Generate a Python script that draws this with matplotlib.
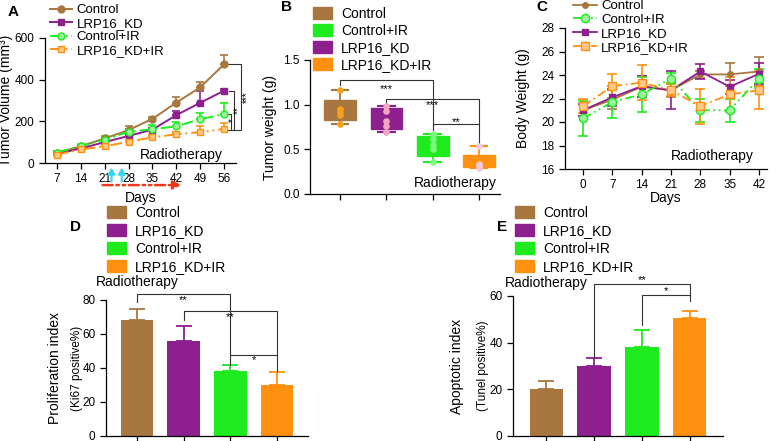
import matplotlib
matplotlib.use("Agg")
import matplotlib.pyplot as plt
import numpy as np
from matplotlib.lines import Line2D
from matplotlib.patches import Patch

plt.rcParams['font.family'] = ['Liberation Sans', 'DejaVu Sans']

W, H = 778, 441
groups = ["Control", "LRP16_KD", "Control+IR", "LRP16_KD+IR"]
col = {"Control": "#A8773F", "LRP16_KD": "#8E1F8E",
       "Control+IR": "#1EEB1E", "LRP16_KD+IR": "#FF9010"}

# ---- A: tumor volume ----
days_a = [7, 14, 21, 28, 35, 42, 49, 56]
vol = {
    "Control":     [48, 80, 118, 158, 212, 290, 363, 474],
    "LRP16_KD":    [44, 70, 100, 130, 160, 230, 289, 347],
    "Control+IR":  [50, 82, 112, 150, 162, 176, 210, 235],
    "LRP16_KD+IR": [40, 65, 80, 102, 123, 138, 148, 163],
}
vol_err = {
    "Control":     [8, 8, 12, 20, 10, 28, 27, 44],
    "LRP16_KD":    [5, 6, 8, 10, 8, 20, 56, 6],
    "Control+IR":  [6, 8, 20, 14, 20, 20, 28, 52],
    "LRP16_KD+IR": [5, 6, 8, 10, 10, 12, 28, 28],
}

# ---- B: tumor weight ----
weight_pts = {
    "Control":     [1.165, 0.95, 0.92, 0.88, 0.785],
    "LRP16_KD":    [0.985, 0.93, 0.82, 0.76, 0.69],
    "Control+IR":  [0.67, 0.62, 0.55, 0.50, 0.36],
    "LRP16_KD+IR": [0.54, 0.34, 0.33, 0.31, 0.295],
}
pt_col = {"Control": "#F5A21B", "LRP16_KD": "#F4A6C0",
          "Control+IR": "#7CFC7C", "LRP16_KD+IR": "#F8C8D8"}

# ---- C: body weight ----
days_c = [0, 7, 14, 21, 28, 35, 42]
bw = {
    "Control":     [21.0, 21.9, 23.0, 22.7, 24.05, 24.05, 24.3],
    "Control+IR":  [20.3, 21.7, 22.35, 23.7, 21.0, 21.0, 23.7],
    "LRP16_KD":    [21.0, 22.1, 23.05, 22.7, 24.3, 23.0, 24.1],
    "LRP16_KD+IR": [21.35, 23.05, 23.35, 22.7, 21.35, 22.35, 22.7],
}
bw_err = {
    "Control":     [0.5, 0.8, 0.9, 0.6, 0.3, 1.0, 1.2],
    "Control+IR":  [1.5, 1.4, 1.5, 0.5, 1.0, 1.0, 0.8],
    "LRP16_KD":    [0.5, 0.7, 0.9, 1.6, 0.6, 0.6, 0.9],
    "LRP16_KD+IR": [0.6, 1.0, 1.5, 0.5, 1.5, 1.5, 1.6],
}

# ---- D / E: bar charts ----
prolif = [68, 56, 38, 30]
prolif_err = [7, 9, 3.5, 7.5]
apopt = [20, 30, 38, 50.5]
apopt_err = [3.5, 3.5, 7.5, 3]


def ax_px(l, r, t, b):
    return fig.add_axes([l / W, 1 - b / H, (r - l) / W, (b - t) / H])


def style(ax):
    for s in ["top", "right"]:
        ax.spines[s].set_visible(False)
    for s in ["left", "bottom"]:
        ax.spines[s].set_linewidth(0.9)
    ax.tick_params(direction="out", length=4, width=0.9, labelsize=8.5)


def fig_legend(ax, handles, labels, x, y, fs=10, tp=0.6, **kw):
    ax.legend(handles, labels, loc="upper left", bbox_to_anchor=(x / W, 1 - y / H),
              bbox_transform=fig.transFigure, frameon=False, fontsize=fs,
              borderpad=0, borderaxespad=0, handletextpad=tp, **kw)


fig = plt.figure(figsize=(W / 100, H / 100), dpi=100)

# ================= A =================
ax = ax_px(45, 236, 38, 163)
style(ax)
styleA = {
    "Control":     dict(ls="-", marker="o", mfc=col["Control"]),
    "LRP16_KD":    dict(ls="-", marker="s", mfc=col["LRP16_KD"]),
    "Control+IR":  dict(ls=(0, (6, 2, 1, 2)), marker="o", mfc="#9BF59B"),
    "LRP16_KD+IR": dict(ls=(0, (6, 2, 1, 2, 1, 2)), marker="s", mfc="#FFC98A"),
}
handles = []
for g in groups:
    y = np.array(vol[g])
    e = np.array(vol_err[g])
    ax.errorbar(days_a, y, yerr=[np.zeros_like(e), e], color=col[g], lw=1.4,
                ms=5, mec=col[g], capsize=3, elinewidth=1.2, capthick=1.2,
                clip_on=False, zorder=3, **styleA[g])
    handles.append(Line2D([], [], color=col[g], lw=1.4, ms=5, mec=col[g], **styleA[g]))
ax.set_xlim(3.5, 59.5)
ax.set_ylim(0, 600)
ax.set_xticks(days_a)
ax.set_yticks([0, 200, 400, 600])
ax.set_xlabel("Days", fontsize=10, labelpad=4)
ax.set_ylabel("Tumor Volume (mm³)", fontsize=10)
ax.yaxis.set_label_coords(-0.165, 0.5)
ax.text(43.6, 40, "Radiotherapy", ha="center", va="center", fontsize=10)
# irradiation arrows
for d in [23.0, 26.0]:
    ax.annotate("", xy=(d, -22), xytext=(d, -88), xycoords="data",
                arrowprops=dict(arrowstyle="-|>,head_length=0.35,head_width=0.2",
                                color="#35D8F0", lw=1.6, mutation_scale=10,
                                shrinkA=0, shrinkB=0),
                annotation_clip=False)
ax.annotate("", xy=(43.5, -106), xytext=(20.4, -106),
            arrowprops=dict(arrowstyle="-|>", color="#F0381A", lw=1.8,
                            ls=(0, (4, 1.5, 1, 1.5, 1, 1.5)), mutation_scale=12,
                            shrinkA=0, shrinkB=0),
            annotation_clip=False)
# significance
kw = dict(color="#333333", lw=0.8, clip_on=False)
ax.plot([57.0, 61.0, 61.0, 57.0], [474, 474, 158, 158], **kw)
ax.plot([57.5, 58.9, 58.9], [347, 347, 158], **kw)
ax.plot([57.2, 57.9, 57.9], [235, 235, 158], **kw)
for x, y, s in [(62.6, 318, "***"), (60.2, 254, "**"), (58.5, 206, "*")]:
    ax.text(x, y, s, rotation=90, ha="center", va="center", fontsize=7)
fig_legend(ax, handles, groups, 50, 4, fs=9.5, tp=0.35, handlelength=1.65,
           labelspacing=0.1)
fig.text(8 / W, 1 - 12 / H, "A", fontsize=11, fontweight="bold", va="center")

# ================= B =================
ax = ax_px(310, 500, 60, 194)
style(ax)
stats = []
for g in groups:
    p = np.array(weight_pts[g])
    q1, med, q3 = np.percentile(p, [25, 50, 75], method="weibull")
    stats.append(dict(med=med, q1=q1, q3=q3, whislo=p.min(), whishi=p.max(), fliers=[]))
bp = ax.bxp(stats, positions=range(4), widths=0.68, capwidths=0.36,
            patch_artist=True, showfliers=False)
for i, g in enumerate(groups):
    bp["boxes"][i].set(facecolor=col[g], edgecolor=col[g])
    bp["medians"][i].set(color=col[g], lw=1)
    for k in (2 * i, 2 * i + 1):
        bp["whiskers"][k].set(color=col[g], lw=1.3)
        bp["caps"][k].set(color=col[g], lw=1.5)
    ax.scatter(np.full(len(weight_pts[g]), i), weight_pts[g], s=14,
               color=pt_col[g], zorder=4, clip_on=False)
ax.set_xlim(-0.65, 3.45)
ax.set_ylim(0, 1.5)
ax.set_xticks(range(4))
ax.set_xticklabels([])
ax.set_yticks([0, 0.5, 1.0, 1.5])
ax.set_ylabel("Tumor weight (g)", fontsize=10)
ax.yaxis.set_label_coords(-0.174, 0.5)
ax.text(2.48, 0.12, "Radiotherapy", ha="center", va="center", fontsize=10)
kw = dict(color="#333333", lw=0.8, clip_on=False)
ax.plot([0, 0, 2, 2], [1.22, 1.28, 1.28, 0.76], **kw)
ax.plot([1, 1, 3, 3], [1.0, 1.06, 1.06, 0.57], **kw)
ax.plot([2, 2, 3], [0.72, 0.78, 0.78], **kw)
ax.text(1, 1.17, "***", ha="center", va="center", fontsize=8)
ax.text(2, 1.0, "***", ha="center", va="center", fontsize=8)
ax.text(2.5, 0.8, "**", ha="center", va="center", fontsize=8)
order_b = ["Control", "Control+IR", "LRP16_KD", "LRP16_KD+IR"]
fig_legend(ax, [Patch(color=col[g]) for g in order_b], order_b, 313, 7,
           handlelength=1.4, handleheight=0.95, labelspacing=0.22)
fig.text(281 / W, 1 - 7 / H, "B", fontsize=11, fontweight="bold", va="center")

# ================= C =================
ax = ax_px(565, 767, 28, 169)
style(ax)
styleC = {
    "Control":     dict(ls="-", marker="o", mfc=col["Control"], ms=4),
    "Control+IR":  dict(ls=(0, (5, 2, 1, 2, 1, 2)), marker="o", mfc="#9BF59B", ms=6),
    "LRP16_KD":    dict(ls="-", marker="s", mfc=col["LRP16_KD"], ms=5),
    "LRP16_KD+IR": dict(ls=(0, (5, 2, 1, 2)), marker="s", mfc="#FFC98A", ms=6),
}
handles = []
for g in ["Control", "LRP16_KD", "Control+IR", "LRP16_KD+IR"]:
    ax.errorbar(days_c, bw[g], yerr=bw_err[g], color=col[g], lw=1.3, mec=col[g],
                capsize=3.5, elinewidth=1.2, capthick=1.2, clip_on=False, zorder=3,
                **styleC[g])
for g in ["Control", "Control+IR", "LRP16_KD", "LRP16_KD+IR"]:
    handles.append(Line2D([], [], color=col[g], lw=1.3, mec=col[g], **styleC[g]))
ax.set_xlim(-4.3, 43.9)
ax.set_ylim(16, 28)
ax.set_xticks(days_c)
ax.set_yticks(range(16, 29, 2))
ax.set_xlabel("Days", fontsize=10, labelpad=0)
ax.set_ylabel("Body Weight (g)", fontsize=10)
ax.yaxis.set_label_coords(-0.173, 0.5)
ax.text(30.8, 17.1, "Radiotherapy", ha="center", va="center", fontsize=10)
fig_legend(ax, handles, ["Control", "Control+IR", "LRP16_KD", "LRP16_KD+IR"],
           573, 0, fs=9.5, tp=0.35, handlelength=1.8, labelspacing=0.12)
fig.text(536 / W, 1 - 7 / H, "C", fontsize=11, fontweight="bold", va="center")


# ================= D / E =================
def bar_panel(ax, vals, errs):
    style(ax)
    for i, g in enumerate(groups):
        ax.bar(i, vals[i], width=0.69, color=col[g], zorder=2)
        ax.errorbar(i, vals[i], yerr=[[0], [errs[i]]], color=col[g], capsize=6,
                    elinewidth=1.3, capthick=1.3, zorder=1)
    ax.set_xticks(range(4))
    ax.set_xticklabels([])
    ax.tick_params(axis="x", length=6)


ax = ax_px(106, 308, 300, 436)
bar_panel(ax, prolif, prolif_err)
ax.set_xlim(-0.66, 3.66)
ax.set_ylim(0, 80)
ax.set_yticks([0, 20, 40, 60, 80])
ax.set_ylabel("Proliferation index", fontsize=10)
ax.yaxis.set_label_coords(-0.218, 0.5)
ax.text(-1.28, 40, "(Ki67 positive%)", rotation=90, ha="center", va="center",
        fontsize=8.5, clip_on=False)
kw = dict(color="#333333", lw=0.8, clip_on=False)
ax.plot([0, 0, 2, 2], [79, 83.5, 83.5, 47.6], **kw)
ax.plot([1, 1, 3, 3], [68, 73.7, 73.7, 47.6], **kw)
ax.plot([2, 2, 3, 3], [41.8, 47.6, 47.6, 38], **kw)
ax.text(1, 80, "**", ha="center", va="center", fontsize=8)
ax.text(2, 70, "**", ha="center", va="center", fontsize=8)
ax.text(2.5, 44.6, "*", ha="center", va="center", fontsize=8)
ax.text(0, 90.6, "Radiotherapy", ha="center", va="center", fontsize=10, clip_on=False)
fig_legend(ax, [Patch(color=col[g]) for g in groups], groups, 107, 206,
           handlelength=1.4, handleheight=0.95, labelspacing=0.28)
fig.text(70 / W, 1 - 227 / H, "D", fontsize=11, fontweight="bold", va="center")

ax = ax_px(513, 723, 296, 436)
bar_panel(ax, apopt, apopt_err)
ax.set_xlim(-0.69, 3.69)
ax.set_ylim(0, 60)
ax.set_yticks([0, 20, 40, 60])
ax.set_ylabel("Apoptotic index", fontsize=10)
ax.yaxis.set_label_coords(-0.232, 0.5)
ax.text(-1.32, 30, "(Tunel positive%)", rotation=90, ha="center", va="center",
        fontsize=8.5, clip_on=False)
ax.plot([1, 1, 3, 3], [34, 65, 65, 58], **kw)
ax.plot([2, 2, 3], [47.6, 60.4, 60.4], **kw)
ax.text(2, 67, "**", ha="center", va="center", fontsize=8)
ax.text(2.5, 62, "*", ha="center", va="center", fontsize=8)
ax.text(0, 65.6, "Radiotherapy", ha="center", va="center", fontsize=10, clip_on=False)
fig_legend(ax, [Patch(color=col[g]) for g in groups], groups, 515, 206,
           handlelength=1.4, handleheight=0.95, labelspacing=0.28)
fig.text(497 / W, 1 - 227 / H, "E", fontsize=11, fontweight="bold", va="center")

fig.savefig("out.png", dpi=100)
